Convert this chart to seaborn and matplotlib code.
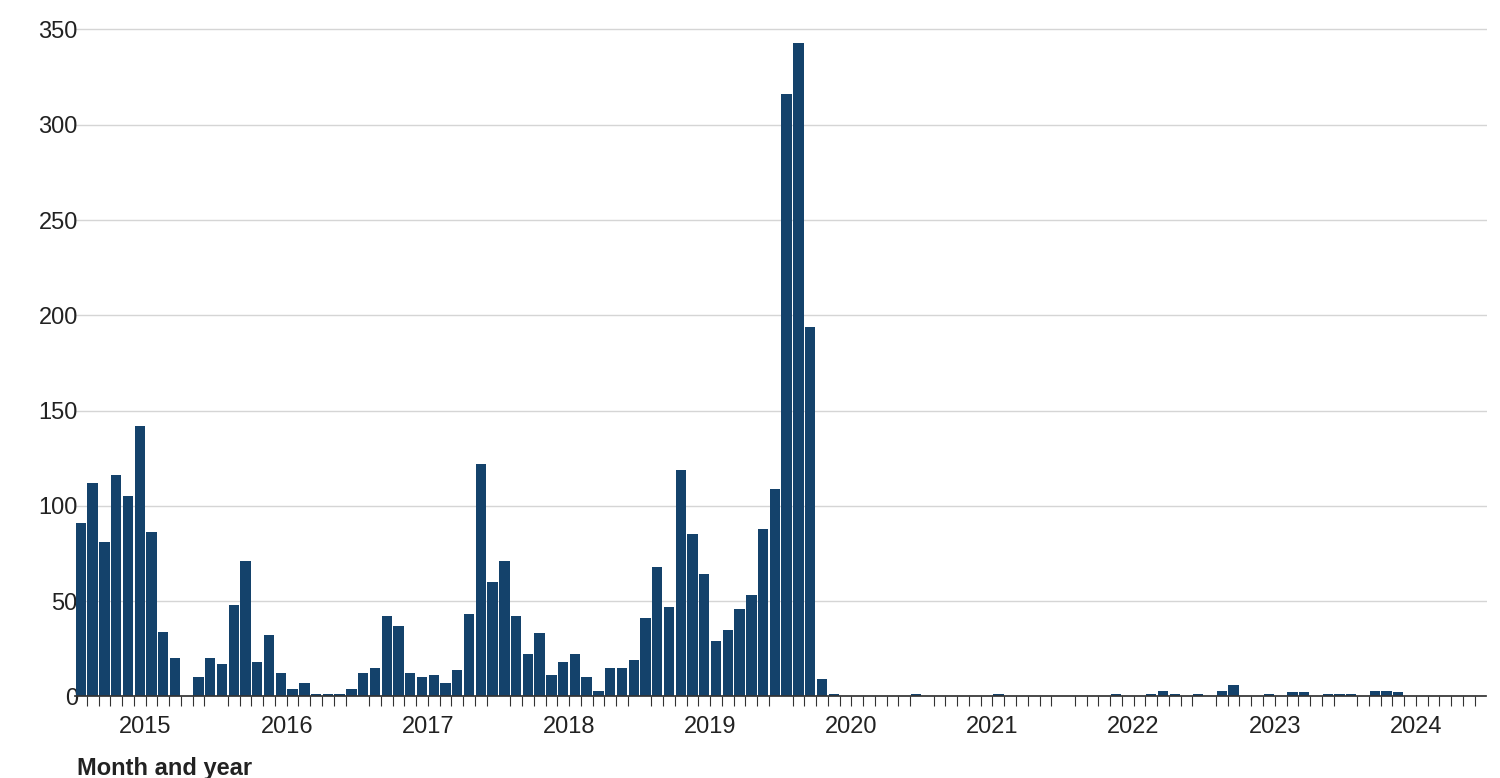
import matplotlib
matplotlib.use("Agg")
import matplotlib.pyplot as plt
import seaborn as sns
import pandas as pd
import numpy as np

years = ["2015","2016","2017","2018","2019","2020","2021","2022","2023","2024"]
vals = [91,112,81,116,105,142,86,34,20,0,10,20,
        17,48,71,18,32,12,4,7,1,1,1,4,
        12,15,42,37,12,10,11,7,14,43,122,60,
        71,42,22,33,11,18,22,10,3,15,15,19,
        41,68,47,119,85,64,29,35,46,53,88,109,
        316,343,194,9,1,0,0,0,0,0,0,1,
        0,0,0,0,0,0,1,0,0,0,0,0,
        0,0,0,0,1,0,0,1,3,1,0,1,
        0,3,6,0,0,1,0,2,2,0,1,1,
        1,0,3,3,2,0,0,0,0,0,0,0]
# 2023/2024 alignment adjust
df = pd.DataFrame({"m": np.arange(len(vals)), "v": vals})

sns.set_theme(style="white")
plt.rcParams['font.family'] = ['Liberation Sans', 'DejaVu Sans']
fig = plt.figure(figsize=(15, 7.78), dpi=100)
ax = fig.add_axes([0.05, 0.105, 0.941, 0.862])
sns.barplot(data=df, x="m", y="v", native_scale=True, color="#14426b",
            width=0.88, saturation=1, ax=ax, edgecolor="none")
ax.set_xlim(-0.5, 119.5)
ax.set_ylim(0, 352)
ax.set_yticks(range(0, 351, 50))
ax.yaxis.grid(True, color="#d5d5d5", lw=1)
ax.set_axisbelow(True)
for s in ["left", "right", "top"]:
    ax.spines[s].set_visible(False)
ax.spines["bottom"].set_color("#333333")
ax.tick_params(axis="y", length=0, labelsize=17, colors="#222222", pad=-2)
ax.set_yticklabels([str(t) for t in range(0, 351, 50)])
for lab in ax.get_yticklabels():
    lab.set_horizontalalignment("right")
ax.set_xticks(np.arange(0, 121, 12) - 0.5)
ax.set_xticklabels([])
ax.set_xticks(np.arange(0, 121) - 0.5, minor=True)
ax.tick_params(axis="x", which="major", length=14, width=1, color="#333333")
ax.tick_params(axis="x", which="minor", length=7, width=0.8, color="#333333", bottom=True)
for i, y in enumerate(years):
    ax.text(i * 12 + 5.5, -0.03, y, transform=ax.get_xaxis_transform(),
            ha="center", va="top", fontsize=17, color="#222222")
ax.set_xlabel("")
ax.set_ylabel("")
ax.text(-0.3, -0.09, "Month and year", transform=ax.get_xaxis_transform(),
        ha="left", va="top", fontsize=17, fontweight="bold", color="#222222")
fig.savefig("out.png", dpi=100)
